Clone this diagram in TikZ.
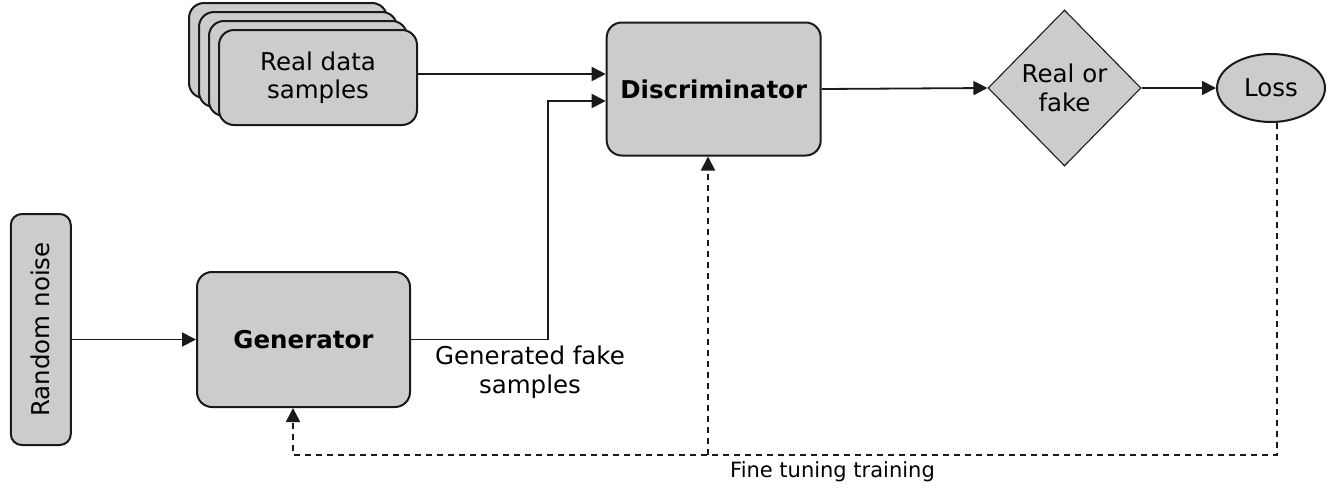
\documentclass[tikz,border=0pt]{standalone}
\usepackage{fontspec}
\setmainfont{DejaVu Sans}
\usetikzlibrary{shapes.geometric,arrows.meta,calc}
\definecolor{boxfill}{HTML}{CCCCCC}
\definecolor{boxline}{HTML}{1A1A1A}
\begin{document}
\begin{tikzpicture}[x=1pt,y=-1pt,
  box/.style={draw=boxline, fill=boxfill, line width=2pt, rounded corners=15pt,
    inner sep=0pt, align=center, font=\fontsize{24.5}{28.5}\selectfont},
  arr/.style={-{Triangle[length=14pt,width=14pt]}, line width=1.8pt, draw=boxline},
  dsh/.style={arr, dash pattern=on 6pt off 5pt},
  lbl/.style={align=center, font=\fontsize{24.5}{28.5}\selectfont}]
\fill[white] (0,0) rectangle (1335,488);
\useasboundingbox (0,0) rectangle (1335,488);

% random noise
\node[box, rounded corners=11pt, rotate=90, minimum width=231pt, minimum height=60pt]
  (noise) at (40.8,329.5) {Random noise};

% generator
\node[box, minimum width=213pt, minimum height=135pt, font=\fontsize{24.5}{28.5}\selectfont\bfseries]
  (gen) at (303.5,339.5) {Generator};

% real data stack
\node[box, minimum width=198pt, minimum height=95pt] (real3) at (288,50.5) {};
\node[box, minimum width=198pt, minimum height=95pt] (real2) at (298,59.5) {};
\node[box, minimum width=198pt, minimum height=95pt] (real1) at (308,68.5) {};
\node[box, minimum width=198pt, minimum height=95pt] (real) at (318,77.5) {Real data\\samples};

% discriminator
\node[box, minimum width=214pt, minimum height=133pt, font=\fontsize{24.5}{28.5}\selectfont\bfseries]
  (disc) at (713.7,89) {Discriminator};

% diamond
\node[diamond, draw=boxline, fill=boxfill, line width=1.1pt, minimum width=153pt, minimum height=156pt,
  inner sep=0pt, align=center, font=\fontsize{24.5}{28.5}\selectfont]
  (dia) at (1064.5,88) {Real or\\fake};

% loss
\node[ellipse, draw=boxline, fill=boxfill, line width=2pt, minimum width=108pt, minimum height=68pt,
  inner sep=0pt, font=\fontsize{24.5}{28.5}\selectfont]
  (loss) at (1271,88) {Loss};

% coordinates
\coordinate (in1) at ([yshift=15pt]disc.west);
\coordinate (in2) at ([yshift=-12pt]disc.west);
\coordinate (bend) at (548,0);
\coordinate (fbL) at (293,455);
\coordinate (dd) at ([xshift=-5.7pt]disc.south);
\coordinate (ls) at ([xshift=6pt]loss.south);
\coordinate (gs) at ([xshift=-10.5pt]gen.south);

% connectors
\draw[arr] (noise.south |- gen.west) -- (gen.west);
\draw[arr] (real.east |- in1) -- (in1);
\draw[arr] (gen.east) -- (gen.east -| bend) |- (in2);
\draw[arr] (disc.east) -- (dia.west);
\draw[arr] (dia.east) -- (loss.west);

% feedback
\draw[dsh] (ls) |- (fbL) -- (gs);
\draw[dsh] (dd |- fbL) -- (dd);

% labels
\node[lbl] (genlbl) at (530,372) {Generated fake\\samples};
\node[font=\fontsize{21}{24}\selectfont, anchor=base] (ftl) at (832.5,477) {Fine tuning training};
\end{tikzpicture}
\end{document}
